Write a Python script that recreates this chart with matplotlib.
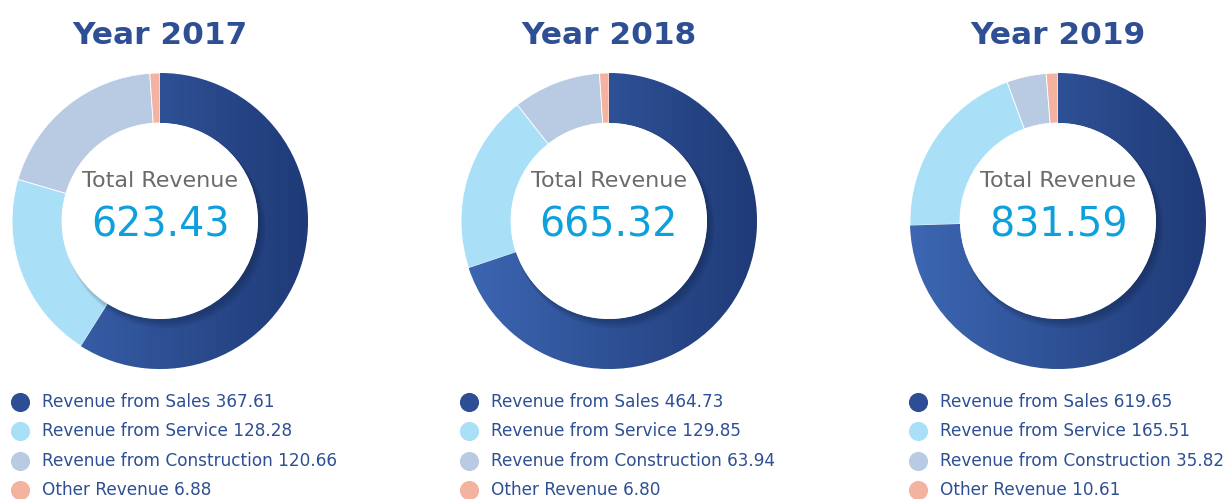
import matplotlib
matplotlib.use("Agg")
import matplotlib.pyplot as plt
import numpy as np
from matplotlib.colors import LinearSegmentedColormap
from matplotlib.patches import Circle

years = ["2017", "2018", "2019"]
categories = ["Revenue from Sales", "Revenue from Service",
              "Revenue from Construction", "Other Revenue"]
sales = [367.61, 464.73, 619.65]
service = [128.28, 129.85, 165.51]
construction = [120.66, 63.94, 35.82]
other = [6.88, 6.80, 10.61]
totals = [623.43, 665.32, 831.59]

COLORS = ["#2d4d95", "#a9e0f8", "#b8cbe3", "#f4b3a0"]
NAVY = "#2e4f94"
W, H = 1224, 499
CENTERS_X = [160, 609, 1058]
CY = H - 221          # donut centre (y up)
R_OUT, R_IN = 148, 98
grad = LinearSegmentedColormap.from_list("sales", ["#3d67b3", "#1f3a77"])

fig = plt.figure(figsize=(W / 100, H / 100), dpi=100)
ax = fig.add_axes([0, 0, 1, 1])

for i, yr in enumerate(years):
    cx = CENTERS_X[i]
    vals = [sales[i], service[i], construction[i], other[i]]
    wedges, _ = ax.pie(vals, colors=COLORS, startangle=90, counterclock=False,
                       center=(cx, CY), radius=R_OUT,
                       wedgeprops=dict(width=R_OUT - R_IN, edgecolor="white", linewidth=0.6))
    # horizontal gradient on the sales slice
    img = ax.imshow(np.linspace(0, 1, 256)[None, :], cmap=grad, aspect="auto",
                    extent=[cx - R_OUT, cx + R_OUT, CY - R_OUT, CY + R_OUT], zorder=2)
    img.set_clip_path(wedges[0])

    # soft shadow under the centre disc, towards bottom-right
    for k in range(6):
        ax.add_patch(Circle((cx + 2 + k * 0.6, CY - 3 - k * 0.8), R_IN + k * 0.5,
                            color="black", alpha=0.03, lw=0, zorder=3))
    ax.add_patch(Circle((cx, CY), R_IN, color="white", lw=0, zorder=4))

    ax.text(cx, H - 181, "Total Revenue", ha="center", va="center",
            fontsize=16, color="#6b6b6b", zorder=5)
    ax.text(cx, H - 225, f"{totals[i]:.2f}", ha="center", va="center",
            fontsize=28.5, color="#0ea0dd", zorder=5)
    ax.text(cx, H - 35, f"Year {yr}", ha="center", va="center",
            fontsize=22.5, fontweight="bold", color=NAVY)

    # legend
    for j, (cat, v) in enumerate(zip(categories, vals)):
        ly = H - (402 + j * 29.3)
        ax.scatter([cx - 140], [ly], s=190, color=COLORS[j], lw=0, zorder=5)
        ax.text(cx - 118, ly, f"{cat} {v:.2f}", ha="left", va="center",
                fontsize=12.2, color=NAVY)

ax.set_xlim(0, W)
ax.set_ylim(0, H)
ax.set_aspect("equal")
ax.axis("off")

fig.savefig("out.png", dpi=100, facecolor="white")
